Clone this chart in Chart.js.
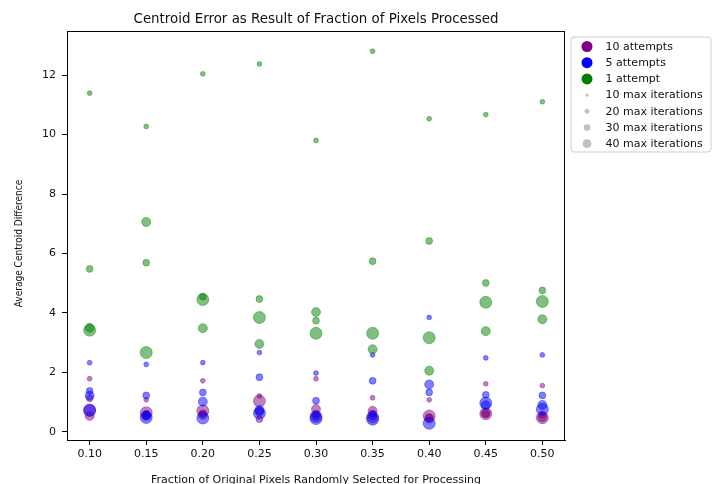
<!DOCTYPE html>
<html>
<head>
<meta charset="utf-8">
<script src="https://cdn.jsdelivr.net/npm/chart.js@4.4.1/dist/chart.umd.min.js"></script>
<style>
  html, body { margin: 0; padding: 0; background: #fff; }
  #c { display: block; }
</style>
</head>
<body>
<canvas id="c" width="716" height="484"></canvas>
<script>
// ---------------- data ----------------
const fractions = [0.10, 0.15, 0.20, 0.25, 0.30, 0.35, 0.40, 0.45, 0.50];
const attempts = [10, 5, 1];
const iterations = [10, 20, 30, 40];
const xTicks = [0.10, 0.15, 0.20, 0.25, 0.30, 0.35, 0.40, 0.45, 0.50];
const yTicks = [0, 2, 4, 6, 8, 10, 12];

// 10 attempts
const att10_it10 = [1.79, 1.08, 1.72, 1.21, 1.79, 1.15, 1.08, 1.62, 1.56];
const att10_it20 = [1.13, 0.62, 0.62, 0.43, 0.60, 0.62, 0.50, 0.60, 0.58];
const att10_it30 = [0.54, 0.55, 0.58, 0.68, 0.77, 0.71, 0.45, 0.63, 0.50];
const att10_it40 = [0.74, 0.65, 0.71, 1.04, 0.52, 0.50, 0.54, 0.61, 0.48];
// 5 attempts
const att5_it10 = [2.33, 2.27, 2.33, 2.67, 1.98, 2.59, 3.85, 2.49, 2.59];
const att5_it20 = [1.38, 1.23, 1.33, 1.84, 1.05, 1.72, 1.33, 1.25, 1.23];
const att5_it30 = [1.22, 0.55, 1.02, 0.74, 0.55, 0.55, 1.60, 0.90, 0.91];
const att5_it40 = [0.72, 0.49, 0.47, 0.63, 0.45, 0.43, 0.29, 0.97, 0.76];
// 1 attempt
const att1_it10 = [11.39, 10.27, 12.04, 12.37, 9.80, 12.80, 10.53, 10.67, 11.10];
const att1_it20 = [5.48, 5.69, 4.55, 4.47, 3.74, 5.74, 6.42, 5.01, 4.76];
const att1_it30 = [3.50, 7.06, 3.49, 2.96, 4.03, 2.78, 2.06, 3.39, 3.79];
const att1_it40 = [3.42, 2.67, 4.45, 3.85, 3.32, 3.32, 3.17, 4.36, 4.39];

const title = 'Centroid Error as Result of Fraction of Pixels Processed';
const xTitle = 'Fraction of Original Pixels Randomly Selected for Processing';
const yTitle = 'Average Centroid Difference';

// ---------------- styles ----------------
const attemptColor = { 10: 'rgba(128,0,128,0.5)', 5: 'rgba(0,0,255,0.5)', 1: 'rgba(0,128,0,0.5)' };
const attemptLegendColor = { 10: '#800080', 5: '#0000ff', 1: '#008000' };
const attemptOrder = { 10: 2, 5: 1, 1: 0 };
const iterRadius = { 10: 2.4, 20: 3.4, 30: 4.5, 40: 6 };
const iterLegendRadius = { 10: 1.6, 20: 2.4, 30: 3.3, 40: 4.4 };

const series = [
  [10, 10, att10_it10], [10, 20, att10_it20], [10, 30, att10_it30], [10, 40, att10_it40],
  [5, 10, att5_it10], [5, 20, att5_it20], [5, 30, att5_it30], [5, 40, att5_it40],
  [1, 10, att1_it10], [1, 20, att1_it20], [1, 30, att1_it30], [1, 40, att1_it40]
];

const datasets = series.map(([att, it, vals]) => ({
  label: att + ' attempts, ' + it + ' max iterations',
  data: fractions.map((f, i) => ({ x: f, y: vals[i] })),
  backgroundColor: attemptColor[att],
  borderColor: attemptColor[att],
  borderWidth: 0.8,
  pointRadius: iterRadius[it],
  pointHoverRadius: iterRadius[it],
  order: attemptOrder[att] * 10 + (40 - it) / 10
}));

const FONT = '"DejaVu Sans", "Liberation Sans", sans-serif';
const TEXT = '#111';

const decorPlugin = {
  id: 'decor',
  afterDraw(chart) {
    const ctx = chart.ctx;
    const a = chart.chartArea;
    ctx.save();
    // frame
    ctx.strokeStyle = '#000';
    ctx.lineWidth = 1;
    ctx.strokeRect(Math.round(a.left) + 0.5, Math.round(a.top) + 0.5,
                   Math.round(a.right - a.left) - 1, Math.round(a.bottom - a.top));
    // title
    ctx.fillStyle = TEXT;
    ctx.textAlign = 'center';
    ctx.textBaseline = 'middle';
    ctx.font = '13.4px ' + FONT;
    const cx = (a.left + a.right) / 2;
    ctx.fillText(title, cx, 20);
    // axis titles
    ctx.font = '11px ' + FONT;
    ctx.fillText(xTitle, cx, 480);
    ctx.save();
    ctx.translate(19, (a.top + a.bottom) / 2 + 8);
    ctx.rotate(-Math.PI / 2);
    ctx.scale(0.82, 1);
    ctx.fillText(yTitle, 0, 0);
    ctx.restore();
    // legend
    const lx = 571, ly = 37, lw = 140, lh = 115, r = 3;
    ctx.beginPath();
    ctx.moveTo(lx + r, ly);
    ctx.arcTo(lx + lw, ly, lx + lw, ly + lh, r);
    ctx.arcTo(lx + lw, ly + lh, lx, ly + lh, r);
    ctx.arcTo(lx, ly + lh, lx, ly, r);
    ctx.arcTo(lx, ly, lx + lw, ly, r);
    ctx.closePath();
    ctx.fillStyle = 'rgba(255,255,255,0.8)';
    ctx.fill();
    ctx.strokeStyle = '#cccccc';
    ctx.stroke();
    const items = [];
    attempts.forEach(att => items.push({ text: att + (att === 1 ? ' attempt' : ' attempts'), color: attemptLegendColor[att], r: 5.5 }));
    iterations.forEach(it => items.push({ text: it + ' max iterations', color: '#bfbfbf', r: iterLegendRadius[it] }));
    ctx.textAlign = 'left';
    ctx.font = '11px ' + FONT;
    items.forEach((item, i) => {
      const y = 46.5 + i * 16.2;
      ctx.beginPath();
      ctx.arc(587, y, item.r, 0, Math.PI * 2);
      ctx.fillStyle = item.color;
      ctx.fill();
      ctx.fillStyle = TEXT;
      ctx.fillText(item.text, 605.5, y + 0.5);
    });
    ctx.restore();
  }
};

const tickFont = { family: FONT, size: 11 };

new Chart(document.getElementById('c'), {
  type: 'scatter',
  data: { datasets },
  options: {
    responsive: false,
    devicePixelRatio: 1,
    animation: false,
    layout: { padding: { left: 0, right: 151, top: 31, bottom: 0 } },
    plugins: { legend: { display: false }, title: { display: false }, tooltip: { enabled: false } },
    scales: {
      x: {
        type: 'linear',
        min: 0.08,
        max: 0.52,
        afterBuildTicks: s => { s.ticks = xTicks.map(v => ({ value: v })); },
        afterFit: s => { s.height = 44; },
        ticks: { callback: v => Number(v).toFixed(2), font: tickFont, color: TEXT, padding: 3, autoSkip: false, maxRotation: 0 },
        grid: { display: true, drawOnChartArea: false, drawTicks: true, tickLength: 5, tickColor: '#000', color: '#000' },
        border: { display: true, color: '#000' }
      },
      y: {
        type: 'linear',
        min: -0.27,
        max: 13.48,
        afterBuildTicks: s => { s.ticks = yTicks.map(v => ({ value: v })); },
        afterFit: s => { s.width = 67; },
        ticks: { callback: v => String(v), font: tickFont, color: TEXT, padding: 6, autoSkip: false },
        grid: { display: true, drawOnChartArea: false, drawTicks: true, tickLength: 5, tickColor: '#000', color: '#000' },
        border: { display: true, color: '#000' }
      }
    }
  },
  plugins: [decorPlugin]
});
</script>
</body>
</html>
